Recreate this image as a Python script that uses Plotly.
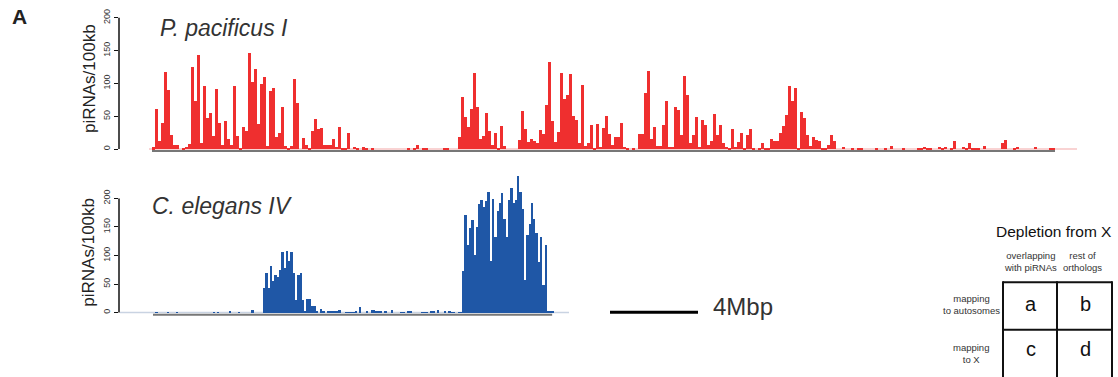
import plotly.graph_objects as go

# ---------------- data (piRNAs per 100kb bin) ----------------
pacificus_I = [
    3, 61, 13, 40, 118, 90, 22, 7, 7, 0,
    1, 4, 8, 125, 73, 143, 10, 97, 47, 55,
    20, 91, 40, 7, 43, 16, 7, 97, 20, 1,
    34, 28, 146, 103, 122, 38, 100, 110, 5, 88,
    94, 19, 25, 65, 5, 2, 5, 107, 71, 0,
    17, 7, 2, 28, 46, 31,
    32, 7, 7, 7,
    16, 4, 34, 1, 1, 25, 0, 4, 1, 0,
    3, 1, 0, 1,
    0, 0, 0, 0, 0, 0, 0, 0, 0, 0, 0,
    1, 0, 1, 7, 0, 1, 1, 0,
    0, 0, 0, 0,
    1, 1, 0, 0, 0,
    19, 80, 49, 34, 61, 116, 64, 16, 20, 55, 28,
    7, 25, 1, 35, 5, 0, 0, 0, 0,
    14, 58, 31, 11, 16, 13, 10, 29, 23, 67,
    133, 43, 11, 26, 116, 76, 83, 115, 50, 44,
    10, 98, 5, 10, 37, 1, 38, 4, 32, 50,
    23, 7, 19, 19, 40, 4, 2, 0, 1, 0,
    23, 23, 85, 119, 16, 34, 5,
    5,
    37, 73, 4, 4, 64, 60, 22, 112, 83, 10,
    22, 49, 4, 44, 37, 7, 13, 53, 22, 37,
    10, 4, 1, 31, 4, 11, 25, 1, 22, 31,
    1, 0, 2, 10, 1, 2, 16, 13, 13, 25,
    35, 52, 97, 74, 94, 1, 56, 47, 22, 5,
    19, 14, 13, 1, 2, 7,
    22, 13, 0, 0,
    4, 0, 0, 1, 0, 2, 1, 0, 0, 0,
    0, 2, 0, 0, 1, 0, 5, 0, 0, 0,
    1, 0, 0, 0, 0, 1, 2, 4, 1, 2,
    0, 0, 4, 1, 4, 0, 1, 13, 0, 0,
    4, 1, 10, 2, 2, 2, 0, 5, 0, 0,
    0, 0, 0, 10, 14, 0, 0, 1, 4, 0,
    0, 0, 0, 0, 4, 0, 0, 0, 0, 1, 1,
]

elegans_IV = [
    0, 1, 0, 0, 0, 0, 1, 0, 0, 0,
    1, 0, 0, 0, 0, 0, 0, 0, 0, 0,
    0, 0, 0, 0, 0, 0, 1, 0, 1, 0,
    0, 0, 0, 3, 0, 0, 0, 1, 0, 0,
    0, 0, 0, 5, 0, 0, 0, 0,
    44, 69, 44, 82, 55, 67, 63, 75, 107, 79, 108, 91, 107, 70, 22, 67, 70, 22,
    3, 24, 24, 12, 12, 3, 0, 6, 3, 0, 3, 3, 3, 3, 3, 5, 0, 0, 1, 1, 1, 1, 3, 0,
    10, 0, 0, 3, 0, 5, 5, 3, 3,
    3, 0, 3, 0, 0, 5, 0, 0, 0, 1, 1, 0, 3, 3, 0, 0, 0, 0, 1, 1, 1, 0, 3, 3, 0,
    5, 0, 0, 3, 0, 3, 1, 1, 0, 1, 1,
    74, 172, 119, 148, 162, 101, 150, 191, 198, 186, 195, 212, 91, 200, 133,
    178, 193, 209, 164, 133, 197, 219, 193, 197, 240, 212, 181, 58, 136, 155,
    193, 165, 139, 89, 133, 48, 119,
    3, 3, 3,
]

y_ticks = [0, 50, 100, 150, 200]
species_titles = ["P. pacificus I", "C. elegans IV"]
y_title = "piRNAs/100kb"
scale_label = "4Mbp"
table_title = "Depletion from X"
col_headers = ["overlapping<br>with piRNAs", "rest of<br>orthologs"]
row_headers = ["mapping<br>to autosomes", "mapping<br>to X"]
cells = [["a", "b"], ["c", "d"]]

# ---------------- style ----------------
W, H = 1118, 377
FONT = "Liberation Sans, Arial, Helvetica, sans-serif"
RED = "#EF2F2F"
BLUE = "#1F57A6"


def px(x):
    return x / W


def py(y):
    return 1 - y / H


fig = go.Figure()
fig.add_trace(go.Bar(x=list(range(len(pacificus_I))), y=pacificus_I, width=1,
                     marker=dict(color=RED, line=dict(width=0)),
                     xaxis="x", yaxis="y", showlegend=False, hoverinfo="skip"))
fig.add_trace(go.Bar(x=list(range(len(elegans_IV))), y=elegans_IV, width=1,
                     marker=dict(color=BLUE, line=dict(width=0)),
                     xaxis="x2", yaxis="y2", showlegend=False, hoverinfo="skip"))

# pixel geometry of the two panels
r_bin = 3.0           # px per red bin, first bin left edge at 152
b_bin = 2.29          # px per blue bin, first bin left edge at 153
r_x = lambda p: (p - 152) / r_bin - 0.5
b_x = lambda p: (p - 153) / b_bin - 0.5

yax_common = dict(tickvals=y_ticks, ticks="outside", ticklen=4, tickwidth=1,
                  tickcolor="#111", tickangle=-90, showline=False, showgrid=False,
                  zeroline=False, tickfont=dict(size=9, color="#333", family=FONT))

fig.update_layout(
    width=W, height=H, margin=dict(l=0, r=0, t=0, b=0),
    paper_bgcolor="white", plot_bgcolor="white", bargap=0,
    font=dict(family=FONT),
    xaxis=dict(domain=[px(119), px(1085)], range=[r_x(119), r_x(1085)],
               visible=False, anchor="y"),
    yaxis=dict(domain=[py(150), py(9)], range=[-6, 206], anchor="x", **yax_common),
    xaxis2=dict(domain=[px(119), px(580)], range=[b_x(119), b_x(580)],
                visible=False, anchor="y2"),
    yaxis2=dict(domain=[py(316), py(168)], range=[-7.4, 248.4], anchor="x2", **yax_common),
)

shapes = []
# baselines (light) under bars
shapes.append(dict(type="line", xref="x", yref="y", x0=r_x(149), x1=r_x(1077), y0=0, y1=0,
                   line=dict(color="#F7C4C4", width=1.5), layer="below"))
shapes.append(dict(type="line", xref="x2", yref="y2", x0=b_x(120), x1=b_x(569), y0=0, y1=0,
                   line=dict(color="#C9D3E2", width=1.5), layer="below"))
# grey chromosome axes
shapes.append(dict(type="line", xref="x", yref="y", x0=-0.5, x1=len(pacificus_I) - 0.5,
                   y0=-3, y1=-3, line=dict(color="#777777", width=2)))
shapes.append(dict(type="line", xref="x2", yref="y2", x0=-0.5, x1=len(elegans_IV) - 1.2,
                   y0=-4, y1=-4, line=dict(color="#777777", width=2)))
# y axis lines 0..200
shapes.append(dict(type="line", xref="x domain", yref="y", x0=0, x1=0, y0=0, y1=200,
                   line=dict(color="#111", width=1.5)))
shapes.append(dict(type="line", xref="x2 domain", yref="y2", x0=0, x1=0, y0=0, y1=200,
                   line=dict(color="#111", width=1.5)))
# scale bar
shapes.append(dict(type="line", xref="paper", yref="paper", x0=px(610), x1=px(698),
                   y0=py(311.5), y1=py(311.5), line=dict(color="#000", width=3)))
# table grid
tl = dict(color="#111", width=2)
for yy in (281, 329):
    shapes.append(dict(type="line", xref="paper", yref="paper", x0=px(1003), x1=px(1112),
                       y0=py(yy), y1=py(yy), line=tl))
for xx in (1003, 1057, 1112):
    shapes.append(dict(type="line", xref="paper", yref="paper", x0=px(xx), x1=px(xx),
                       y0=py(280), y1=py(380), line=tl))
fig.update_layout(shapes=shapes)

ann = []
DY = 3  # annotation boxes sit a little low; lift them


def text(x, y, t, size, color="#222", **kw):
    ann.append(dict(x=px(x), y=py(y - DY), xref="paper", yref="paper", text=t, showarrow=False,
                    xanchor=kw.pop("xanchor", "center"), yanchor=kw.pop("yanchor", "middle"),
                    font=dict(size=size, color=color, family=FONT), **kw))


text(19, 15, "<b>A</b>", 21, "#222")
text(224, 26, "<i>%s</i>" % species_titles[0], 23, "#333")
text(222, 207, "<i>%s</i>" % species_titles[1], 23, "#333")
text(89, 78, y_title, 17, "#222", textangle=-90)
text(89, 254, y_title, 17, "#222", textangle=-90)
text(743, 309, scale_label, 24, "#333")
text(1054, 233, table_title, 15.5, "#111")
text(1030, 263, col_headers[0], 9.5, "#333")
text(1082, 263, col_headers[1], 9.5, "#333")
text(971, 307, row_headers[0], 9.5, "#333")
text(971, 356, row_headers[1], 9.5, "#333")
for i, row in enumerate(cells):
    for j, c in enumerate(row):
        text(1031 + 54 * j, 306 + 46 * i, c, 20, "#111")

fig.update_layout(annotations=ann)
fig.write_html("out.html", config={"displayModeBar": False},
               post_script="document.body.style.margin='0';document.body.style.overflow='hidden';")
